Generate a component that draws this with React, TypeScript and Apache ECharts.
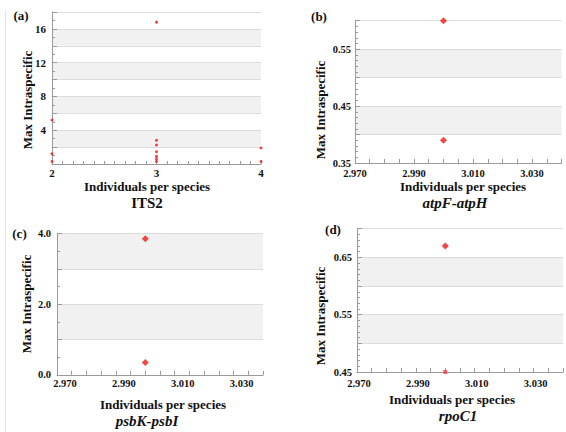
import React, { useEffect, useRef } from "react";
import * as echarts from "echarts";

// ---- Data ----
// Panel (a) ITS2: [individuals per species, max intraspecific]
const itsX = [2, 2, 2, 3, 3, 3, 3, 3, 3, 3, 4, 4];
const itsY = [5.2, 1.2, 0.3, 16.8, 2.8, 2.25, 1.45, 0.9, 0.6, 0.3, 1.9, 0.3];
// Panel (b) atpF-atpH
const atpX = [3.0, 3.0];
const atpY = [0.6, 0.39];
// Panel (c) psbK-psbI
const psbX = [3.0, 3.0];
const psbY = [3.86, 0.35];
// Panel (d) rpoC1
const rpoX = [3.0, 3.0];
const rpoY = [0.67, 0.45];

const panelLetters = ["(a)", "(b)", "(c)", "(d)"];
const markerTitles = ["ITS2", "atpF-atpH", "psbK-psbI", "rpoC1"];
const xName = "Individuals per species";
const yName = "Max Intraspecific";

const SERIF = "'Liberation Serif', 'DejaVu Serif', serif";
const RED = "#f01818";
const AXIS_GRAY = "#9a9a9a";

const zip = (xs: number[], ys: number[]) => xs.map((x, i) => [x, ys[i]]);

const yAxisBase = (gridIndex: number) => ({
  type: "value" as const,
  gridIndex,
  axisLine: { show: true, lineStyle: { color: AXIS_GRAY, width: 1 } },
  axisTick: { show: true, inside: true, length: 5, lineStyle: { color: AXIS_GRAY } },
  splitLine: { show: true, lineStyle: { color: "#dcdcdc", width: 1 } },
  splitArea: { show: true, areaStyle: { color: ["rgba(255,255,255,0)", "#f1f1f1"] } },
});

const xAxisBase = (gridIndex: number) => ({
  type: "value" as const,
  gridIndex,
  axisLine: { show: true, onZero: false, lineStyle: { color: AXIS_GRAY, width: 1 } },
  axisTick: { show: true, inside: true, length: 4, lineStyle: { color: AXIS_GRAY } },
  splitLine: { show: false },
});

const labelStyle = { color: "#111", fontFamily: SERIF, fontWeight: "bold" as const, fontSize: 10.5 };

const fineXLabel = (v: number) => {
  const k = Math.round(v * 1000);
  return (k - 2970) % 20 === 0 ? (k / 1000).toFixed(3) : "";
};

const minor = (splitNumber: number) => ({
  show: true,
  splitNumber,
  length: 3,
  lineStyle: { color: AXIS_GRAY },
});

export default function App() {
  const ref = useRef<HTMLDivElement>(null);
  useEffect(() => {
    if (!ref.current) return;
    const chart = echarts.init(ref.current, null, { renderer: "svg" });

    const txt = (
      text: string,
      x: number,
      y: number,
      size: number,
      opts: { italic?: boolean; rotate?: boolean } = {}
    ) => ({
      type: "text",
      x,
      y,
      rotation: opts.rotate ? Math.PI / 2 : 0,
      style: {
        text,
        fill: "#111",
        font: `${opts.italic ? "italic " : ""}bold ${size}px ${SERIF}`,
        align: "center",
        verticalAlign: "middle",
      },
      z: 100,
    });

    chart.setOption({
      animation: false,
      backgroundColor: "#fff",
      grid: [
        { left: 52, top: 12, width: 209, height: 152 },
        { left: 355, top: 20.7, width: 206.5, height: 142.3 },
        { left: 57, top: 233.7, width: 206, height: 141.2 },
        { left: 357, top: 228.7, width: 211.6, height: 143.3 },
      ],
      xAxis: [
        {
          ...xAxisBase(0),
          min: 2,
          max: 4,
          interval: 1,
          minorTick: minor(10),
          axisLabel: { ...labelStyle, fontSize: 11, margin: 3, formatter: (v: number) => String(v) },
        },
        {
          ...xAxisBase(1),
          min: 2.97,
          max: 3.04,
          interval: 0.005,
          axisLabel: { ...labelStyle, margin: 5, formatter: fineXLabel },
        },
        {
          ...xAxisBase(2),
          min: 2.97,
          max: 3.04,
          interval: 0.005,
          axisLabel: { ...labelStyle, margin: 3, padding: [0, 0, 0, 16], formatter: fineXLabel },
        },
        {
          ...xAxisBase(3),
          min: 2.97,
          max: 3.04,
          interval: 0.005,
          axisLabel: { ...labelStyle, margin: 6, padding: [0, 0, 0, 4], formatter: fineXLabel },
        },
      ],
      yAxis: [
        {
          ...yAxisBase(0),
          min: 0,
          max: 18,
          interval: 2,
          minorTick: minor(2),
          axisLabel: {
            ...labelStyle,
            fontSize: 11,
            margin: 6,
            formatter: (v: number) => (v > 0 && v % 4 === 0 ? String(v) : ""),
          },
        },
        {
          ...yAxisBase(1),
          min: 0.35,
          max: 0.6,
          interval: 0.05,
          minorTick: minor(5),
          axisLabel: {
            ...labelStyle,
            margin: 4,
            formatter: (v: number) => {
              const k = Math.round(v * 100);
              return (k - 35) % 10 === 0 ? (k / 100).toFixed(2) : "";
            },
          },
        },
        {
          ...yAxisBase(2),
          min: 0,
          max: 4,
          interval: 1,
          minorTick: minor(2),
          axisLabel: {
            ...labelStyle,
            margin: 6,
            formatter: (v: number) => (Math.round(v) % 2 === 0 ? v.toFixed(1) : ""),
          },
        },
        {
          ...yAxisBase(3),
          min: 0.45,
          max: 0.7,
          interval: 0.05,
          minorTick: minor(5),
          axisLabel: {
            ...labelStyle,
            margin: 5,
            formatter: (v: number) => {
              const k = Math.round(v * 100);
              return (k - 45) % 10 === 0 ? (k / 100).toFixed(2) : "";
            },
          },
        },
      ],
      series: [
        {
          type: "scatter",
          xAxisIndex: 0,
          yAxisIndex: 0,
          symbol: "circle",
          symbolSize: 3,
          itemStyle: { color: RED },
          clip: false,
          data: zip(itsX, itsY),
        },
        {
          type: "scatter",
          xAxisIndex: 1,
          yAxisIndex: 1,
          symbol: "diamond",
          symbolSize: 7,
          itemStyle: { color: RED },
          clip: false,
          data: zip(atpX, atpY),
        },
        {
          type: "scatter",
          xAxisIndex: 2,
          yAxisIndex: 2,
          symbol: "diamond",
          symbolSize: 7,
          itemStyle: { color: RED },
          clip: false,
          data: zip(psbX, psbY),
        },
        {
          type: "scatter",
          xAxisIndex: 3,
          yAxisIndex: 3,
          symbol: "diamond",
          symbolSize: 7,
          itemStyle: { color: RED },
          clip: false,
          data: zip(rpoX, rpoY).map((p, i) =>
            i === 1 ? { value: p, symbol: "rect", symbolSize: 4, itemStyle: { color: "#f04040" } } : p
          ),
        },
      ],
      graphic: [
        {
          type: "line",
          shape: { x1: 5.5, y1: 10, x2: 5.5, y2: 432 },
          style: { stroke: "#e6e6e6", lineWidth: 1 },
        },
        txt(panelLetters[0], 21, 15, 13),
        txt(panelLetters[1], 319, 16, 13),
        txt(panelLetters[2], 19.5, 233, 13),
        txt(panelLetters[3], 333, 229, 13),
        txt(yName, 27.5, 100, 13, { rotate: true }),
        txt(yName, 320, 110, 13, { rotate: true }),
        txt(yName, 26, 304, 13, { rotate: true }),
        txt(yName, 320, 316, 13, { rotate: true }),
        txt(xName, 147, 186, 13),
        txt(xName, 463, 186, 13),
        txt(xName, 163, 404, 13),
        txt(xName, 452, 399, 13),
        txt(markerTitles[0], 147, 203, 15),
        txt(markerTitles[1], 455, 203, 15, { italic: true }),
        txt(markerTitles[2], 147, 421, 15, { italic: true }),
        txt(markerTitles[3], 458, 416, 15, { italic: true }),
      ],
    });
    return () => chart.dispose();
  }, []);

  return (
    <div
      ref={ref}
      style={{ position: "fixed", left: 0, top: 0, width: 566, height: 432, background: "#fff" }}
    />
  );
}
